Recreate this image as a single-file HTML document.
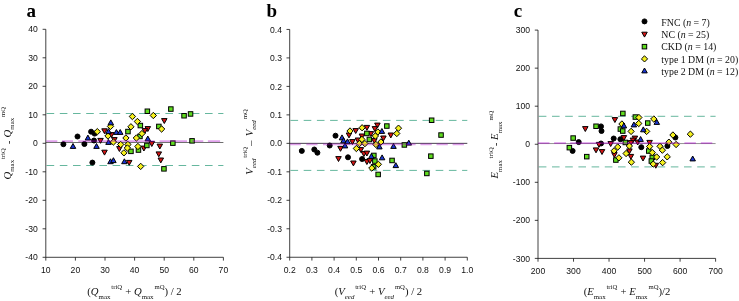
<!DOCTYPE html>
<html><head><meta charset="utf-8"><title>Bland-Altman plots</title>
<style>
html,body{margin:0;padding:0;background:#fff;}
body{width:739px;height:301px;overflow:hidden;}
svg{display:block;will-change:transform;}
.t{font-family:"Liberation Sans",sans-serif;font-size:8.6px;fill:#111;}
.h{font-family:"Liberation Serif",serif;font-weight:bold;font-size:19px;fill:#000;}
.l{font-family:"Liberation Serif",serif;font-size:10.7px;fill:#111;}
.sb{font-size:6.9px;}
.sp{font-size:6.7px;}
.g{font-family:"Liberation Serif",serif;font-size:9.85px;fill:#111;}
</style></head>
<body>
<svg width="739" height="301" viewBox="0 0 739 301">
<rect width="739" height="301" fill="#fff"/>
<line x1="45.8" y1="142.5" x2="223.4" y2="142.5" stroke="#555" stroke-width="0.85"/>
<line x1="46.599999999999994" y1="113.5" x2="223.4" y2="113.5" stroke="#3fa585" stroke-width="0.8" stroke-dasharray="7.6 5.6"/>
<line x1="46.599999999999994" y1="165.5" x2="223.4" y2="165.5" stroke="#3fa585" stroke-width="0.8" stroke-dasharray="7.6 5.6"/>
<path d="M45.8 29.3V257.3H223.4" fill="none" stroke="#111" stroke-width="0.8"/>
<line x1="42.599999999999994" y1="29.30" x2="45.8" y2="29.30" stroke="#111" stroke-width="0.8"/>
<text class="t" x="37.7" y="32.40" text-anchor="end">40</text>
<line x1="42.599999999999994" y1="57.80" x2="45.8" y2="57.80" stroke="#111" stroke-width="0.8"/>
<text class="t" x="37.7" y="60.90" text-anchor="end">30</text>
<line x1="42.599999999999994" y1="86.30" x2="45.8" y2="86.30" stroke="#111" stroke-width="0.8"/>
<text class="t" x="37.7" y="89.40" text-anchor="end">20</text>
<line x1="42.599999999999994" y1="114.80" x2="45.8" y2="114.80" stroke="#111" stroke-width="0.8"/>
<text class="t" x="37.7" y="117.90" text-anchor="end">10</text>
<line x1="42.599999999999994" y1="143.30" x2="45.8" y2="143.30" stroke="#111" stroke-width="0.8"/>
<text class="t" x="37.7" y="146.40" text-anchor="end">0</text>
<line x1="42.599999999999994" y1="171.80" x2="45.8" y2="171.80" stroke="#111" stroke-width="0.8"/>
<text class="t" x="37.7" y="174.90" text-anchor="end">-10</text>
<line x1="42.599999999999994" y1="200.30" x2="45.8" y2="200.30" stroke="#111" stroke-width="0.8"/>
<text class="t" x="37.7" y="203.40" text-anchor="end">-20</text>
<line x1="42.599999999999994" y1="228.80" x2="45.8" y2="228.80" stroke="#111" stroke-width="0.8"/>
<text class="t" x="37.7" y="231.90" text-anchor="end">-30</text>
<line x1="42.599999999999994" y1="257.30" x2="45.8" y2="257.30" stroke="#111" stroke-width="0.8"/>
<text class="t" x="37.7" y="260.40" text-anchor="end">-40</text>
<line x1="45.80" y1="257.3" x2="45.80" y2="260.6" stroke="#111" stroke-width="0.8"/>
<text class="t" x="45.80" y="273.20" text-anchor="middle">10</text>
<line x1="75.40" y1="257.3" x2="75.40" y2="260.6" stroke="#111" stroke-width="0.8"/>
<text class="t" x="75.40" y="273.20" text-anchor="middle">20</text>
<line x1="105.00" y1="257.3" x2="105.00" y2="260.6" stroke="#111" stroke-width="0.8"/>
<text class="t" x="105.00" y="273.20" text-anchor="middle">30</text>
<line x1="134.60" y1="257.3" x2="134.60" y2="260.6" stroke="#111" stroke-width="0.8"/>
<text class="t" x="134.60" y="273.20" text-anchor="middle">40</text>
<line x1="164.20" y1="257.3" x2="164.20" y2="260.6" stroke="#111" stroke-width="0.8"/>
<text class="t" x="164.20" y="273.20" text-anchor="middle">50</text>
<line x1="193.80" y1="257.3" x2="193.80" y2="260.6" stroke="#111" stroke-width="0.8"/>
<text class="t" x="193.80" y="273.20" text-anchor="middle">60</text>
<line x1="223.40" y1="257.3" x2="223.40" y2="260.6" stroke="#111" stroke-width="0.8"/>
<text class="t" x="223.40" y="273.20" text-anchor="middle">70</text>
<circle cx="63.4" cy="144.2" r="2.5" fill="#000" stroke="#000" stroke-width="1.0"/>
<circle cx="77.5" cy="136.5" r="2.5" fill="#000" stroke="#000" stroke-width="1.0"/>
<circle cx="84.4" cy="144.0" r="2.5" fill="#000" stroke="#000" stroke-width="1.0"/>
<circle cx="91.1" cy="131.7" r="2.5" fill="#000" stroke="#000" stroke-width="1.0"/>
<circle cx="94.6" cy="133.6" r="2.5" fill="#000" stroke="#000" stroke-width="1.0"/>
<circle cx="94.0" cy="140.5" r="2.5" fill="#000" stroke="#000" stroke-width="1.0"/>
<circle cx="92.4" cy="162.6" r="2.5" fill="#000" stroke="#000" stroke-width="1.0"/>
<path d="M101.75 128.80H107.25L104.50 133.70Z" fill="#d81414" stroke="#000" stroke-width="1.0"/>
<path d="M97.75 138.40H103.25L100.50 143.30Z" fill="#d81414" stroke="#000" stroke-width="1.0"/>
<path d="M101.75 150.20H107.25L104.50 155.10Z" fill="#d81414" stroke="#000" stroke-width="1.0"/>
<path d="M116.65 146.60H122.15L119.40 151.50Z" fill="#d81414" stroke="#000" stroke-width="1.0"/>
<path d="M126.45 160.40H131.95L129.20 165.30Z" fill="#d81414" stroke="#000" stroke-width="1.0"/>
<path d="M145.05 126.60H150.55L147.80 131.50Z" fill="#d81414" stroke="#000" stroke-width="1.0"/>
<path d="M142.15 128.60H147.65L144.90 133.50Z" fill="#d81414" stroke="#000" stroke-width="1.0"/>
<path d="M141.15 146.10H146.65L143.90 151.00Z" fill="#d81414" stroke="#000" stroke-width="1.0"/>
<path d="M149.05 141.60H154.55L151.80 146.50Z" fill="#d81414" stroke="#000" stroke-width="1.0"/>
<path d="M161.55 118.60H167.05L164.30 123.50Z" fill="#d81414" stroke="#000" stroke-width="1.0"/>
<path d="M157.05 144.10H162.55L159.80 149.00Z" fill="#d81414" stroke="#000" stroke-width="1.0"/>
<path d="M156.05 151.90H161.55L158.80 156.80Z" fill="#d81414" stroke="#000" stroke-width="1.0"/>
<path d="M158.05 158.00H163.55L160.80 162.90Z" fill="#d81414" stroke="#000" stroke-width="1.0"/>
<path d="M108.75 132.60H114.25L111.50 137.50Z" fill="#d81414" stroke="#000" stroke-width="1.0"/>
<path d="M111.65 137.60H117.15L114.40 142.50Z" fill="#d81414" stroke="#000" stroke-width="1.0"/>
<rect x="125.7" y="129.3" width="4.5" height="4.5" fill="#5fdc1e" stroke="#000" stroke-width="1.0"/>
<rect x="128.7" y="149.1" width="4.5" height="4.5" fill="#5fdc1e" stroke="#000" stroke-width="1.0"/>
<rect x="145.1" y="109.0" width="4.5" height="4.5" fill="#5fdc1e" stroke="#000" stroke-width="1.0"/>
<rect x="138.1" y="123.3" width="4.5" height="4.5" fill="#5fdc1e" stroke="#000" stroke-width="1.0"/>
<rect x="137.7" y="134.2" width="4.5" height="4.5" fill="#5fdc1e" stroke="#000" stroke-width="1.0"/>
<rect x="144.6" y="143.2" width="4.5" height="4.5" fill="#5fdc1e" stroke="#000" stroke-width="1.0"/>
<rect x="156.6" y="124.2" width="4.5" height="4.5" fill="#5fdc1e" stroke="#000" stroke-width="1.0"/>
<rect x="161.7" y="166.6" width="4.5" height="4.5" fill="#5fdc1e" stroke="#000" stroke-width="1.0"/>
<rect x="168.6" y="106.8" width="4.5" height="4.5" fill="#5fdc1e" stroke="#000" stroke-width="1.0"/>
<rect x="181.8" y="113.5" width="4.5" height="4.5" fill="#5fdc1e" stroke="#000" stroke-width="1.0"/>
<rect x="188.3" y="111.7" width="4.5" height="4.5" fill="#5fdc1e" stroke="#000" stroke-width="1.0"/>
<rect x="170.6" y="140.9" width="4.5" height="4.5" fill="#5fdc1e" stroke="#000" stroke-width="1.0"/>
<rect x="189.8" y="138.6" width="4.5" height="4.5" fill="#5fdc1e" stroke="#000" stroke-width="1.0"/>
<rect x="136.2" y="147.8" width="4.5" height="4.5" fill="#5fdc1e" stroke="#000" stroke-width="1.0"/>
<path d="M94.1 131.7L97.3 128.5L100.5 131.7L97.3 134.8Z" fill="#f5f01e" stroke="#000" stroke-width="1.0"/>
<path d="M104.8 136.0L108.0 132.8L111.2 136.0L108.0 139.2Z" fill="#f5f01e" stroke="#000" stroke-width="1.0"/>
<path d="M107.3 126.4L110.5 123.2L113.7 126.4L110.5 129.6Z" fill="#f5f01e" stroke="#000" stroke-width="1.0"/>
<path d="M129.2 116.5L132.4 113.3L135.6 116.5L132.4 119.7Z" fill="#f5f01e" stroke="#000" stroke-width="1.0"/>
<path d="M134.2 121.5L137.4 118.3L140.6 121.5L137.4 124.7Z" fill="#f5f01e" stroke="#000" stroke-width="1.0"/>
<path d="M127.8 126.8L130.9 123.6L134.1 126.8L130.9 129.9Z" fill="#f5f01e" stroke="#000" stroke-width="1.0"/>
<path d="M122.8 138.0L125.9 134.8L129.1 138.0L125.9 141.2Z" fill="#f5f01e" stroke="#000" stroke-width="1.0"/>
<path d="M117.5 144.5L120.7 141.3L123.9 144.5L120.7 147.7Z" fill="#f5f01e" stroke="#000" stroke-width="1.0"/>
<path d="M124.8 144.5L127.9 141.3L131.1 144.5L127.9 147.7Z" fill="#f5f01e" stroke="#000" stroke-width="1.0"/>
<path d="M120.8 152.8L123.9 149.7L127.1 152.8L123.9 156.0Z" fill="#f5f01e" stroke="#000" stroke-width="1.0"/>
<path d="M137.5 166.4L140.7 163.2L143.8 166.4L140.7 169.6Z" fill="#f5f01e" stroke="#000" stroke-width="1.0"/>
<path d="M150.2 115.5L153.3 112.3L156.5 115.5L153.3 118.7Z" fill="#f5f01e" stroke="#000" stroke-width="1.0"/>
<path d="M138.8 133.6L141.9 130.4L145.1 133.6L141.9 136.8Z" fill="#f5f01e" stroke="#000" stroke-width="1.0"/>
<path d="M133.2 138.0L136.4 134.8L139.6 138.0L136.4 141.2Z" fill="#f5f01e" stroke="#000" stroke-width="1.0"/>
<path d="M134.8 146.5L137.9 143.3L141.1 146.5L137.9 149.7Z" fill="#f5f01e" stroke="#000" stroke-width="1.0"/>
<path d="M158.4 129.0L161.6 125.8L164.8 129.0L161.6 132.2Z" fill="#f5f01e" stroke="#000" stroke-width="1.0"/>
<path d="M110.2 142.0L113.4 138.8L116.6 142.0L113.4 145.2Z" fill="#f5f01e" stroke="#000" stroke-width="1.0"/>
<path d="M124.2 148.0L127.4 144.8L130.6 148.0L127.4 151.2Z" fill="#f5f01e" stroke="#000" stroke-width="1.0"/>
<path d="M70.25 148.40H75.75L73.00 143.50Z" fill="#1a35d6" stroke="#000" stroke-width="1.0"/>
<path d="M85.15 140.00H90.65L87.90 135.10Z" fill="#1a35d6" stroke="#000" stroke-width="1.0"/>
<path d="M93.75 148.40H99.25L96.50 143.50Z" fill="#1a35d6" stroke="#000" stroke-width="1.0"/>
<path d="M108.05 124.80H113.55L110.80 119.90Z" fill="#1a35d6" stroke="#000" stroke-width="1.0"/>
<path d="M113.65 134.40H119.15L116.40 129.50Z" fill="#1a35d6" stroke="#000" stroke-width="1.0"/>
<path d="M117.45 134.40H122.95L120.20 129.50Z" fill="#1a35d6" stroke="#000" stroke-width="1.0"/>
<path d="M107.75 163.70H113.25L110.50 158.80Z" fill="#1a35d6" stroke="#000" stroke-width="1.0"/>
<path d="M110.65 162.60H116.15L113.40 157.70Z" fill="#1a35d6" stroke="#000" stroke-width="1.0"/>
<path d="M121.65 163.70H127.15L124.40 158.80Z" fill="#1a35d6" stroke="#000" stroke-width="1.0"/>
<path d="M145.05 140.90H150.55L147.80 136.00Z" fill="#1a35d6" stroke="#000" stroke-width="1.0"/>
<path d="M105.75 133.60H111.25L108.50 128.70Z" fill="#1a35d6" stroke="#000" stroke-width="1.0"/>
<path d="M105.75 144.40H111.25L108.50 139.50Z" fill="#1a35d6" stroke="#000" stroke-width="1.0"/>
<path d="M46.3 141.15H57.3 M62 141.15H73 M78.3 141.15H154.7 M159.6 141.15H187 M191.9 141.15H203.3 M207.9 141.15H220.1" fill="none" stroke="#aa00c8" stroke-opacity="0.37" stroke-width="1.7"/>
<line x1="289.7" y1="143.35" x2="467.3" y2="143.35" stroke="#282030" stroke-width="0.85"/>
<line x1="290.5" y1="120.4" x2="467.3" y2="120.4" stroke="#3fa585" stroke-width="0.8" stroke-dasharray="7.6 5.6"/>
<line x1="290.5" y1="170.4" x2="467.3" y2="170.4" stroke="#3fa585" stroke-width="0.8" stroke-dasharray="7.6 5.6"/>
<path d="M289.7 29.45V257.25H467.3" fill="none" stroke="#111" stroke-width="0.8"/>
<line x1="286.5" y1="29.45" x2="289.7" y2="29.45" stroke="#111" stroke-width="0.8"/>
<text class="t" x="282" y="32.55" text-anchor="end">0.4</text>
<line x1="286.5" y1="57.92" x2="289.7" y2="57.92" stroke="#111" stroke-width="0.8"/>
<text class="t" x="282" y="61.02" text-anchor="end">0.3</text>
<line x1="286.5" y1="86.40" x2="289.7" y2="86.40" stroke="#111" stroke-width="0.8"/>
<text class="t" x="282" y="89.50" text-anchor="end">0.2</text>
<line x1="286.5" y1="114.88" x2="289.7" y2="114.88" stroke="#111" stroke-width="0.8"/>
<text class="t" x="282" y="117.98" text-anchor="end">0.1</text>
<line x1="286.5" y1="143.35" x2="289.7" y2="143.35" stroke="#111" stroke-width="0.8"/>
<text class="t" x="282" y="146.45" text-anchor="end">0.0</text>
<line x1="286.5" y1="171.82" x2="289.7" y2="171.82" stroke="#111" stroke-width="0.8"/>
<text class="t" x="282" y="174.92" text-anchor="end">-0.1</text>
<line x1="286.5" y1="200.30" x2="289.7" y2="200.30" stroke="#111" stroke-width="0.8"/>
<text class="t" x="282" y="203.40" text-anchor="end">-0.2</text>
<line x1="286.5" y1="228.78" x2="289.7" y2="228.78" stroke="#111" stroke-width="0.8"/>
<text class="t" x="282" y="231.88" text-anchor="end">-0.3</text>
<line x1="286.5" y1="257.25" x2="289.7" y2="257.25" stroke="#111" stroke-width="0.8"/>
<text class="t" x="282" y="260.35" text-anchor="end">-0.4</text>
<line x1="289.70" y1="257.25" x2="289.70" y2="260.55" stroke="#111" stroke-width="0.8"/>
<text class="t" x="289.70" y="273.15" text-anchor="middle">0.2</text>
<line x1="311.90" y1="257.25" x2="311.90" y2="260.55" stroke="#111" stroke-width="0.8"/>
<text class="t" x="311.90" y="273.15" text-anchor="middle">0.3</text>
<line x1="334.10" y1="257.25" x2="334.10" y2="260.55" stroke="#111" stroke-width="0.8"/>
<text class="t" x="334.10" y="273.15" text-anchor="middle">0.4</text>
<line x1="356.30" y1="257.25" x2="356.30" y2="260.55" stroke="#111" stroke-width="0.8"/>
<text class="t" x="356.30" y="273.15" text-anchor="middle">0.5</text>
<line x1="378.50" y1="257.25" x2="378.50" y2="260.55" stroke="#111" stroke-width="0.8"/>
<text class="t" x="378.50" y="273.15" text-anchor="middle">0.6</text>
<line x1="400.70" y1="257.25" x2="400.70" y2="260.55" stroke="#111" stroke-width="0.8"/>
<text class="t" x="400.70" y="273.15" text-anchor="middle">0.7</text>
<line x1="422.90" y1="257.25" x2="422.90" y2="260.55" stroke="#111" stroke-width="0.8"/>
<text class="t" x="422.90" y="273.15" text-anchor="middle">0.8</text>
<line x1="445.10" y1="257.25" x2="445.10" y2="260.55" stroke="#111" stroke-width="0.8"/>
<text class="t" x="445.10" y="273.15" text-anchor="middle">0.9</text>
<line x1="467.30" y1="257.25" x2="467.30" y2="260.55" stroke="#111" stroke-width="0.8"/>
<text class="t" x="467.30" y="273.15" text-anchor="middle">1.0</text>
<circle cx="301.8" cy="150.9" r="2.5" fill="#000" stroke="#000" stroke-width="1.0"/>
<circle cx="314.3" cy="149.5" r="2.5" fill="#000" stroke="#000" stroke-width="1.0"/>
<circle cx="317.4" cy="152.7" r="2.5" fill="#000" stroke="#000" stroke-width="1.0"/>
<circle cx="329.7" cy="145.5" r="2.5" fill="#000" stroke="#000" stroke-width="1.0"/>
<circle cx="335.5" cy="135.7" r="2.5" fill="#000" stroke="#000" stroke-width="1.0"/>
<circle cx="348.0" cy="157.3" r="2.5" fill="#000" stroke="#000" stroke-width="1.0"/>
<circle cx="362.1" cy="159.0" r="2.5" fill="#000" stroke="#000" stroke-width="1.0"/>
<path d="M352.95 128.60H358.45L355.70 133.50Z" fill="#d81414" stroke="#000" stroke-width="1.0"/>
<path d="M364.15 125.40H369.65L366.90 130.30Z" fill="#d81414" stroke="#000" stroke-width="1.0"/>
<path d="M374.65 123.10H380.15L377.40 128.00Z" fill="#d81414" stroke="#000" stroke-width="1.0"/>
<path d="M372.15 126.60H377.65L374.90 131.50Z" fill="#d81414" stroke="#000" stroke-width="1.0"/>
<path d="M388.05 133.00H393.55L390.80 137.90Z" fill="#d81414" stroke="#000" stroke-width="1.0"/>
<path d="M368.15 131.60H373.65L370.90 136.50Z" fill="#d81414" stroke="#000" stroke-width="1.0"/>
<path d="M346.25 133.00H351.75L349.00 137.90Z" fill="#d81414" stroke="#000" stroke-width="1.0"/>
<path d="M359.15 134.00H364.65L361.90 138.90Z" fill="#d81414" stroke="#000" stroke-width="1.0"/>
<path d="M380.65 136.00H386.15L383.40 140.90Z" fill="#d81414" stroke="#000" stroke-width="1.0"/>
<path d="M349.65 139.60H355.15L352.40 144.50Z" fill="#d81414" stroke="#000" stroke-width="1.0"/>
<path d="M371.65 138.60H377.15L374.40 143.50Z" fill="#d81414" stroke="#000" stroke-width="1.0"/>
<path d="M355.15 138.00H360.65L357.90 142.90Z" fill="#d81414" stroke="#000" stroke-width="1.0"/>
<path d="M337.75 146.40H343.25L340.50 151.30Z" fill="#d81414" stroke="#000" stroke-width="1.0"/>
<path d="M358.15 147.60H363.65L360.90 152.50Z" fill="#d81414" stroke="#000" stroke-width="1.0"/>
<path d="M361.15 151.60H366.65L363.90 156.50Z" fill="#d81414" stroke="#000" stroke-width="1.0"/>
<path d="M364.15 151.10H369.65L366.90 156.00Z" fill="#d81414" stroke="#000" stroke-width="1.0"/>
<path d="M335.75 156.60H341.25L338.50 161.50Z" fill="#d81414" stroke="#000" stroke-width="1.0"/>
<path d="M350.65 161.00H356.15L353.40 165.90Z" fill="#d81414" stroke="#000" stroke-width="1.0"/>
<path d="M364.15 159.60H369.65L366.90 164.50Z" fill="#d81414" stroke="#000" stroke-width="1.0"/>
<path d="M367.15 158.60H372.65L369.90 163.50Z" fill="#d81414" stroke="#000" stroke-width="1.0"/>
<rect x="384.6" y="123.8" width="4.5" height="4.5" fill="#5fdc1e" stroke="#000" stroke-width="1.0"/>
<rect x="364.6" y="131.2" width="4.5" height="4.5" fill="#5fdc1e" stroke="#000" stroke-width="1.0"/>
<rect x="367.1" y="137.2" width="4.5" height="4.5" fill="#5fdc1e" stroke="#000" stroke-width="1.0"/>
<rect x="402.1" y="142.7" width="4.5" height="4.5" fill="#5fdc1e" stroke="#000" stroke-width="1.0"/>
<rect x="371.6" y="153.2" width="4.5" height="4.5" fill="#5fdc1e" stroke="#000" stroke-width="1.0"/>
<rect x="372.6" y="158.8" width="4.5" height="4.5" fill="#5fdc1e" stroke="#000" stroke-width="1.0"/>
<rect x="389.8" y="158.2" width="4.5" height="4.5" fill="#5fdc1e" stroke="#000" stroke-width="1.0"/>
<rect x="371.4" y="164.6" width="4.5" height="4.5" fill="#5fdc1e" stroke="#000" stroke-width="1.0"/>
<rect x="375.9" y="172.2" width="4.5" height="4.5" fill="#5fdc1e" stroke="#000" stroke-width="1.0"/>
<rect x="429.4" y="118.0" width="4.5" height="4.5" fill="#5fdc1e" stroke="#000" stroke-width="1.0"/>
<rect x="438.8" y="132.8" width="4.5" height="4.5" fill="#5fdc1e" stroke="#000" stroke-width="1.0"/>
<rect x="428.6" y="153.9" width="4.5" height="4.5" fill="#5fdc1e" stroke="#000" stroke-width="1.0"/>
<rect x="424.6" y="171.2" width="4.5" height="4.5" fill="#5fdc1e" stroke="#000" stroke-width="1.0"/>
<path d="M346.9 131.0L350.0 127.8L353.1 131.0L350.0 134.2Z" fill="#f5f01e" stroke="#000" stroke-width="1.0"/>
<path d="M359.0 127.8L362.1 124.6L365.2 127.8L362.1 130.9Z" fill="#f5f01e" stroke="#000" stroke-width="1.0"/>
<path d="M395.4 128.2L398.5 125.0L401.6 128.2L398.5 131.3Z" fill="#f5f01e" stroke="#000" stroke-width="1.0"/>
<path d="M393.7 133.5L396.8 130.3L399.9 133.5L396.8 136.7Z" fill="#f5f01e" stroke="#000" stroke-width="1.0"/>
<path d="M374.8 132.0L377.9 128.8L381.0 132.0L377.9 135.2Z" fill="#f5f01e" stroke="#000" stroke-width="1.0"/>
<path d="M372.2 136.0L375.4 132.8L378.5 136.0L375.4 139.2Z" fill="#f5f01e" stroke="#000" stroke-width="1.0"/>
<path d="M358.8 139.4L361.9 136.2L365.0 139.4L361.9 142.6Z" fill="#f5f01e" stroke="#000" stroke-width="1.0"/>
<path d="M377.8 142.0L380.9 138.8L384.0 142.0L380.9 145.2Z" fill="#f5f01e" stroke="#000" stroke-width="1.0"/>
<path d="M356.2 143.6L359.4 140.4L362.5 143.6L359.4 146.8Z" fill="#f5f01e" stroke="#000" stroke-width="1.0"/>
<path d="M361.8 143.6L364.9 140.4L368.0 143.6L364.9 146.8Z" fill="#f5f01e" stroke="#000" stroke-width="1.0"/>
<path d="M372.8 144.5L375.9 141.3L379.0 144.5L375.9 147.7Z" fill="#f5f01e" stroke="#000" stroke-width="1.0"/>
<path d="M353.2 148.5L356.4 145.3L359.5 148.5L356.4 151.7Z" fill="#f5f01e" stroke="#000" stroke-width="1.0"/>
<path d="M375.2 164.3L378.4 161.2L381.5 164.3L378.4 167.5Z" fill="#f5f01e" stroke="#000" stroke-width="1.0"/>
<path d="M368.7 168.1L371.8 164.9L374.9 168.1L371.8 171.2Z" fill="#f5f01e" stroke="#000" stroke-width="1.0"/>
<path d="M339.25 139.80H344.75L342.00 134.90Z" fill="#1a35d6" stroke="#000" stroke-width="1.0"/>
<path d="M340.75 142.80H346.25L343.50 137.90Z" fill="#1a35d6" stroke="#000" stroke-width="1.0"/>
<path d="M344.75 143.80H350.25L347.50 138.90Z" fill="#1a35d6" stroke="#000" stroke-width="1.0"/>
<path d="M342.25 147.90H347.75L345.00 143.00Z" fill="#1a35d6" stroke="#000" stroke-width="1.0"/>
<path d="M379.15 133.40H384.65L381.90 128.50Z" fill="#1a35d6" stroke="#000" stroke-width="1.0"/>
<path d="M376.65 148.90H382.15L379.40 144.00Z" fill="#1a35d6" stroke="#000" stroke-width="1.0"/>
<path d="M390.75 148.40H396.25L393.50 143.50Z" fill="#1a35d6" stroke="#000" stroke-width="1.0"/>
<path d="M406.05 145.10H411.55L408.80 140.20Z" fill="#1a35d6" stroke="#000" stroke-width="1.0"/>
<path d="M368.65 158.40H374.15L371.40 153.50Z" fill="#1a35d6" stroke="#000" stroke-width="1.0"/>
<path d="M379.35 159.80H384.85L382.10 154.90Z" fill="#1a35d6" stroke="#000" stroke-width="1.0"/>
<path d="M393.05 167.60H398.55L395.80 162.70Z" fill="#1a35d6" stroke="#000" stroke-width="1.0"/>
<path d="M290.1 144.45H300.8 M306.3 144.45H317.5 M323 144.45H415.6 M420.4 144.45H431.7 M436.5 144.45H447.8 M452.6 144.45H463.9" fill="none" stroke="#aa00c8" stroke-opacity="0.37" stroke-width="1.7"/>
<line x1="538.0" y1="143.55" x2="715.6" y2="143.55" stroke="#808080" stroke-width="0.85"/>
<line x1="538.8" y1="116.3" x2="715.6" y2="116.3" stroke="#3fa585" stroke-width="0.8" stroke-dasharray="7.6 5.6"/>
<line x1="538.8" y1="166.9" x2="715.6" y2="166.9" stroke="#3fa585" stroke-width="0.8" stroke-dasharray="7.6 5.6"/>
<path d="M538.0 30.1V258.4H715.6" fill="none" stroke="#111" stroke-width="0.8"/>
<line x1="534.8" y1="30.10" x2="538.0" y2="30.10" stroke="#111" stroke-width="0.8"/>
<text class="t" x="530" y="33.20" text-anchor="end">300</text>
<line x1="534.8" y1="68.15" x2="538.0" y2="68.15" stroke="#111" stroke-width="0.8"/>
<text class="t" x="530" y="71.25" text-anchor="end">200</text>
<line x1="534.8" y1="106.20" x2="538.0" y2="106.20" stroke="#111" stroke-width="0.8"/>
<text class="t" x="530" y="109.30" text-anchor="end">100</text>
<line x1="534.8" y1="144.25" x2="538.0" y2="144.25" stroke="#111" stroke-width="0.8"/>
<text class="t" x="530" y="147.35" text-anchor="end">0</text>
<line x1="534.8" y1="182.30" x2="538.0" y2="182.30" stroke="#111" stroke-width="0.8"/>
<text class="t" x="530" y="185.40" text-anchor="end">-100</text>
<line x1="534.8" y1="220.35" x2="538.0" y2="220.35" stroke="#111" stroke-width="0.8"/>
<text class="t" x="530" y="223.45" text-anchor="end">-200</text>
<line x1="534.8" y1="258.40" x2="538.0" y2="258.40" stroke="#111" stroke-width="0.8"/>
<text class="t" x="530" y="261.50" text-anchor="end">-300</text>
<line x1="538.00" y1="258.4" x2="538.00" y2="261.7" stroke="#111" stroke-width="0.8"/>
<text class="t" x="538.00" y="274.30" text-anchor="middle">200</text>
<line x1="573.52" y1="258.4" x2="573.52" y2="261.7" stroke="#111" stroke-width="0.8"/>
<text class="t" x="573.52" y="274.30" text-anchor="middle">300</text>
<line x1="609.04" y1="258.4" x2="609.04" y2="261.7" stroke="#111" stroke-width="0.8"/>
<text class="t" x="609.04" y="274.30" text-anchor="middle">400</text>
<line x1="644.56" y1="258.4" x2="644.56" y2="261.7" stroke="#111" stroke-width="0.8"/>
<text class="t" x="644.56" y="274.30" text-anchor="middle">500</text>
<line x1="680.08" y1="258.4" x2="680.08" y2="261.7" stroke="#111" stroke-width="0.8"/>
<text class="t" x="680.08" y="274.30" text-anchor="middle">600</text>
<line x1="715.60" y1="258.4" x2="715.60" y2="261.7" stroke="#111" stroke-width="0.8"/>
<text class="t" x="715.60" y="274.30" text-anchor="middle">700</text>
<circle cx="578.7" cy="142.1" r="2.5" fill="#000" stroke="#000" stroke-width="1.0"/>
<circle cx="572.6" cy="150.9" r="2.5" fill="#000" stroke="#000" stroke-width="1.0"/>
<circle cx="601.0" cy="126.4" r="2.5" fill="#000" stroke="#000" stroke-width="1.0"/>
<circle cx="601.5" cy="131.0" r="2.5" fill="#000" stroke="#000" stroke-width="1.0"/>
<circle cx="613.7" cy="138.5" r="2.5" fill="#000" stroke="#000" stroke-width="1.0"/>
<circle cx="620.4" cy="139.2" r="2.5" fill="#000" stroke="#000" stroke-width="1.0"/>
<circle cx="601.0" cy="143.5" r="2.5" fill="#000" stroke="#000" stroke-width="1.0"/>
<circle cx="641.3" cy="147.2" r="2.5" fill="#000" stroke="#000" stroke-width="1.0"/>
<circle cx="675.4" cy="137.5" r="2.5" fill="#000" stroke="#000" stroke-width="1.0"/>
<circle cx="667.4" cy="146.0" r="2.5" fill="#000" stroke="#000" stroke-width="1.0"/>
<path d="M582.55 126.60H588.05L585.30 131.50Z" fill="#d81414" stroke="#000" stroke-width="1.0"/>
<path d="M593.25 147.90H598.75L596.00 152.80Z" fill="#d81414" stroke="#000" stroke-width="1.0"/>
<path d="M596.25 142.40H601.75L599.00 147.30Z" fill="#d81414" stroke="#000" stroke-width="1.0"/>
<path d="M599.25 149.60H604.75L602.00 154.50Z" fill="#d81414" stroke="#000" stroke-width="1.0"/>
<path d="M612.15 117.60H617.65L614.90 122.50Z" fill="#d81414" stroke="#000" stroke-width="1.0"/>
<path d="M621.15 135.60H626.65L623.90 140.50Z" fill="#d81414" stroke="#000" stroke-width="1.0"/>
<path d="M632.15 136.10H637.65L634.90 141.00Z" fill="#d81414" stroke="#000" stroke-width="1.0"/>
<path d="M630.15 138.10H635.65L632.90 143.00Z" fill="#d81414" stroke="#000" stroke-width="1.0"/>
<path d="M628.15 140.60H633.65L630.90 145.50Z" fill="#d81414" stroke="#000" stroke-width="1.0"/>
<path d="M634.95 140.10H640.45L637.70 145.00Z" fill="#d81414" stroke="#000" stroke-width="1.0"/>
<path d="M607.95 141.60H613.45L610.70 146.50Z" fill="#d81414" stroke="#000" stroke-width="1.0"/>
<path d="M646.85 140.40H652.35L649.60 145.30Z" fill="#d81414" stroke="#000" stroke-width="1.0"/>
<path d="M611.65 152.60H617.15L614.40 157.50Z" fill="#d81414" stroke="#000" stroke-width="1.0"/>
<path d="M626.65 148.90H632.15L629.40 153.80Z" fill="#d81414" stroke="#000" stroke-width="1.0"/>
<path d="M628.15 154.40H633.65L630.90 159.30Z" fill="#d81414" stroke="#000" stroke-width="1.0"/>
<path d="M640.25 156.10H645.75L643.00 161.00Z" fill="#d81414" stroke="#000" stroke-width="1.0"/>
<path d="M653.05 163.30H658.55L655.80 168.20Z" fill="#d81414" stroke="#000" stroke-width="1.0"/>
<rect x="570.9" y="135.8" width="4.5" height="4.5" fill="#5fdc1e" stroke="#000" stroke-width="1.0"/>
<rect x="567.1" y="145.4" width="4.5" height="4.5" fill="#5fdc1e" stroke="#000" stroke-width="1.0"/>
<rect x="584.5" y="154.4" width="4.5" height="4.5" fill="#5fdc1e" stroke="#000" stroke-width="1.0"/>
<rect x="593.8" y="124.0" width="4.5" height="4.5" fill="#5fdc1e" stroke="#000" stroke-width="1.0"/>
<rect x="620.6" y="111.2" width="4.5" height="4.5" fill="#5fdc1e" stroke="#000" stroke-width="1.0"/>
<rect x="618.1" y="126.8" width="4.5" height="4.5" fill="#5fdc1e" stroke="#000" stroke-width="1.0"/>
<rect x="620.5" y="128.8" width="4.5" height="4.5" fill="#5fdc1e" stroke="#000" stroke-width="1.0"/>
<rect x="633.1" y="114.8" width="4.5" height="4.5" fill="#5fdc1e" stroke="#000" stroke-width="1.0"/>
<rect x="645.5" y="120.8" width="4.5" height="4.5" fill="#5fdc1e" stroke="#000" stroke-width="1.0"/>
<rect x="623.1" y="140.2" width="4.5" height="4.5" fill="#5fdc1e" stroke="#000" stroke-width="1.0"/>
<rect x="613.6" y="157.8" width="4.5" height="4.5" fill="#5fdc1e" stroke="#000" stroke-width="1.0"/>
<rect x="646.5" y="148.8" width="4.5" height="4.5" fill="#5fdc1e" stroke="#000" stroke-width="1.0"/>
<rect x="650.0" y="155.1" width="4.5" height="4.5" fill="#5fdc1e" stroke="#000" stroke-width="1.0"/>
<rect x="649.1" y="158.8" width="4.5" height="4.5" fill="#5fdc1e" stroke="#000" stroke-width="1.0"/>
<path d="M618.8 124.0L621.9 120.8L625.0 124.0L621.9 127.2Z" fill="#f5f01e" stroke="#000" stroke-width="1.0"/>
<path d="M635.8 117.5L638.9 114.3L642.0 117.5L638.9 120.7Z" fill="#f5f01e" stroke="#000" stroke-width="1.0"/>
<path d="M635.6 123.5L638.7 120.3L641.9 123.5L638.7 126.7Z" fill="#f5f01e" stroke="#000" stroke-width="1.0"/>
<path d="M650.6 119.0L653.8 115.8L656.9 119.0L653.8 122.2Z" fill="#f5f01e" stroke="#000" stroke-width="1.0"/>
<path d="M643.5 131.4L646.6 128.2L649.8 131.4L646.6 134.6Z" fill="#f5f01e" stroke="#000" stroke-width="1.0"/>
<path d="M628.0 131.4L631.1 128.2L634.2 131.4L631.1 134.6Z" fill="#f5f01e" stroke="#000" stroke-width="1.0"/>
<path d="M614.6 147.0L617.7 143.8L620.9 147.0L617.7 150.2Z" fill="#f5f01e" stroke="#000" stroke-width="1.0"/>
<path d="M626.2 146.0L629.4 142.8L632.5 146.0L629.4 149.2Z" fill="#f5f01e" stroke="#000" stroke-width="1.0"/>
<path d="M646.5 146.5L649.6 143.3L652.8 146.5L649.6 149.7Z" fill="#f5f01e" stroke="#000" stroke-width="1.0"/>
<path d="M611.0 150.8L614.1 147.7L617.2 150.8L614.1 154.0Z" fill="#f5f01e" stroke="#000" stroke-width="1.0"/>
<path d="M615.8 157.8L618.9 154.7L622.0 157.8L618.9 161.0Z" fill="#f5f01e" stroke="#000" stroke-width="1.0"/>
<path d="M623.0 153.5L626.1 150.3L629.2 153.5L626.1 156.7Z" fill="#f5f01e" stroke="#000" stroke-width="1.0"/>
<path d="M628.2 162.2L631.4 159.0L634.5 162.2L631.4 165.3Z" fill="#f5f01e" stroke="#000" stroke-width="1.0"/>
<path d="M649.1 152.6L652.3 149.4L655.4 152.6L652.3 155.8Z" fill="#f5f01e" stroke="#000" stroke-width="1.0"/>
<path d="M653.5 157.0L656.6 153.8L659.8 157.0L656.6 160.2Z" fill="#f5f01e" stroke="#000" stroke-width="1.0"/>
<path d="M650.1 164.1L653.2 160.9L656.4 164.1L653.2 167.2Z" fill="#f5f01e" stroke="#000" stroke-width="1.0"/>
<path d="M687.2 134.2L690.4 131.0L693.5 134.2L690.4 137.3Z" fill="#f5f01e" stroke="#000" stroke-width="1.0"/>
<path d="M669.8 135.0L672.9 131.8L676.0 135.0L672.9 138.2Z" fill="#f5f01e" stroke="#000" stroke-width="1.0"/>
<path d="M665.8 142.2L668.9 139.0L672.0 142.2L668.9 145.3Z" fill="#f5f01e" stroke="#000" stroke-width="1.0"/>
<path d="M673.0 144.5L676.1 141.3L679.2 144.5L676.1 147.7Z" fill="#f5f01e" stroke="#000" stroke-width="1.0"/>
<path d="M656.9 146.3L660.0 143.2L663.1 146.3L660.0 149.5Z" fill="#f5f01e" stroke="#000" stroke-width="1.0"/>
<path d="M659.2 150.2L662.4 147.0L665.5 150.2L662.4 153.3Z" fill="#f5f01e" stroke="#000" stroke-width="1.0"/>
<path d="M664.1 156.8L667.2 153.7L670.4 156.8L667.2 160.0Z" fill="#f5f01e" stroke="#000" stroke-width="1.0"/>
<path d="M659.5 162.6L662.6 159.4L665.8 162.6L662.6 165.8Z" fill="#f5f01e" stroke="#000" stroke-width="1.0"/>
<path d="M621.15 127.90H626.65L623.90 123.00Z" fill="#1a35d6" stroke="#000" stroke-width="1.0"/>
<path d="M631.15 126.90H636.65L633.90 122.00Z" fill="#1a35d6" stroke="#000" stroke-width="1.0"/>
<path d="M640.55 131.80H646.05L643.30 126.90Z" fill="#1a35d6" stroke="#000" stroke-width="1.0"/>
<path d="M637.85 141.40H643.35L640.60 136.50Z" fill="#1a35d6" stroke="#000" stroke-width="1.0"/>
<path d="M654.05 124.40H659.55L656.80 119.50Z" fill="#1a35d6" stroke="#000" stroke-width="1.0"/>
<path d="M689.95 160.90H695.45L692.70 156.00Z" fill="#1a35d6" stroke="#000" stroke-width="1.0"/>
<path d="M538.2 143.05H549.5 M554.1 143.05H566 M570.2 143.05H679.4 M684.4 143.05H695.9 M700.8 143.05H712.3" fill="none" stroke="#a800c8" stroke-opacity="0.42" stroke-width="1.7"/>

<text class="h" x="26.5" y="17">a</text>
<text class="h" x="266.5" y="17.3">b</text>
<text class="h" x="513.8" y="17.2">c</text>

<text class="l" x="134.5" y="295.2" text-anchor="middle">(<tspan font-style="italic">Q</tspan><tspan class="sb" dy="3.4">max</tspan><tspan class="sp" dy="-9.8" dx="0.9" letter-spacing="0.00">triQ</tspan><tspan dy="6.4" dx="0.5"> + </tspan><tspan font-style="italic">Q</tspan><tspan class="sb" dy="3.4">max</tspan><tspan class="sp" dy="-9.8" dx="0.9" letter-spacing="0.00">mQ</tspan><tspan dy="6.4">) / 2</tspan></text>
<text class="l" x="378.4" y="295.2" text-anchor="middle">(<tspan font-style="italic">V</tspan><tspan class="sb" dy="3.4" font-style="italic">eed</tspan><tspan class="sp" dy="-9.8" dx="0.9" letter-spacing="0.00">triQ</tspan><tspan dy="6.4" dx="0.5"> + </tspan><tspan font-style="italic">V</tspan><tspan class="sb" dy="3.4" font-style="italic">eed</tspan><tspan class="sp" dy="-9.8" dx="0.9" letter-spacing="0.00">mQ</tspan><tspan dy="6.4">) / 2</tspan></text>
<text class="l" x="627" y="295.2" text-anchor="middle">(<tspan font-style="italic">E</tspan><tspan class="sb" dy="3.4">max</tspan><tspan class="sp" dy="-9.8" dx="0.9" letter-spacing="0.00">triQ</tspan><tspan dy="6.4" dx="0.5"> + </tspan><tspan font-style="italic">E</tspan><tspan class="sb" dy="3.4">max</tspan><tspan class="sp" dy="-9.8" dx="0.9" letter-spacing="0.00">mQ</tspan><tspan dy="6.4">)/2</tspan></text>
<text class="l" transform="translate(10.8 148.2) rotate(-90)" text-anchor="end"><tspan font-style="italic">Q</tspan><tspan class="sb" dy="3.4">max</tspan><tspan class="sp" dy="-8.8" dx="0.9" letter-spacing="0.00">triQ</tspan></text><text class="l" transform="translate(11.8 142.4) rotate(-90)" text-anchor="middle">-</text><text class="l" transform="translate(10.8 137.4) rotate(-90)" text-anchor="start"><tspan font-style="italic">Q</tspan><tspan class="sb" dy="3.4">max</tspan><tspan class="sp" dy="-8.8" dx="0.9" letter-spacing="0.00">mQ</tspan></text>
<text class="l" transform="translate(252.7 146.9) rotate(-90)" text-anchor="end"><tspan font-style="italic">V</tspan><tspan class="sb" dy="3.4" font-style="italic">eed</tspan><tspan class="sp" dy="-8.8" dx="0.9" letter-spacing="0.00">triQ</tspan></text><text class="l" transform="translate(253.7 143.35) rotate(-90)" text-anchor="middle">–</text><text class="l" transform="translate(252.7 136.3) rotate(-90)" text-anchor="start"><tspan font-style="italic">V</tspan><tspan class="sb" dy="3.4" font-style="italic">eed</tspan><tspan class="sp" dy="-8.8" dx="0.9" letter-spacing="0.00">mQ</tspan></text>
<text class="l" transform="translate(498.2 147.0) rotate(-90)" text-anchor="end"><tspan font-style="italic">E</tspan><tspan class="sb" dy="3.4">max</tspan><tspan class="sp" dy="-8.8" dx="1.5" letter-spacing="0.20">triQ</tspan></text><text class="l" transform="translate(499.2 144.45) rotate(-90)" text-anchor="middle">-</text><text class="l" transform="translate(498.2 139.9) rotate(-90)" text-anchor="start"><tspan font-style="italic">E</tspan><tspan class="sb" dy="3.4">max</tspan><tspan class="sp" dy="-8.8" dx="0.9" letter-spacing="0.00">mQ</tspan></text>
<circle cx="644.5" cy="21.4" r="2.5" fill="#000" stroke="#000" stroke-width="1.0"/>
<text class="g" x="661.3" y="25.5">FNC (<tspan font-style="italic">n</tspan> = 7)</text>
<path d="M641.75 32.20H647.25L644.50 37.10Z" fill="#d81414" stroke="#000" stroke-width="1.0"/>
<text class="g" x="661.3" y="37.8">NC (<tspan font-style="italic">n</tspan> = 25)</text>
<rect x="642.2" y="44.4" width="4.5" height="4.5" fill="#5fdc1e" stroke="#000" stroke-width="1.0"/>
<text class="g" x="661.3" y="50.1">CKD (<tspan font-style="italic">n</tspan> = 14)</text>
<path d="M641.4 58.9L644.5 55.8L647.6 58.9L644.5 62.0Z" fill="#f5f01e" stroke="#000" stroke-width="1.0"/>
<text class="g" x="661.3" y="62.5">type 1 DM (<tspan font-style="italic">n</tspan> = 20)</text>
<path d="M641.75 72.90H647.25L644.50 68.00Z" fill="#1a35d6" stroke="#000" stroke-width="1.0"/>
<text class="g" x="661.3" y="74.9">type 2 DM (<tspan font-style="italic">n</tspan> = 12)</text>
</svg>
</body></html>
